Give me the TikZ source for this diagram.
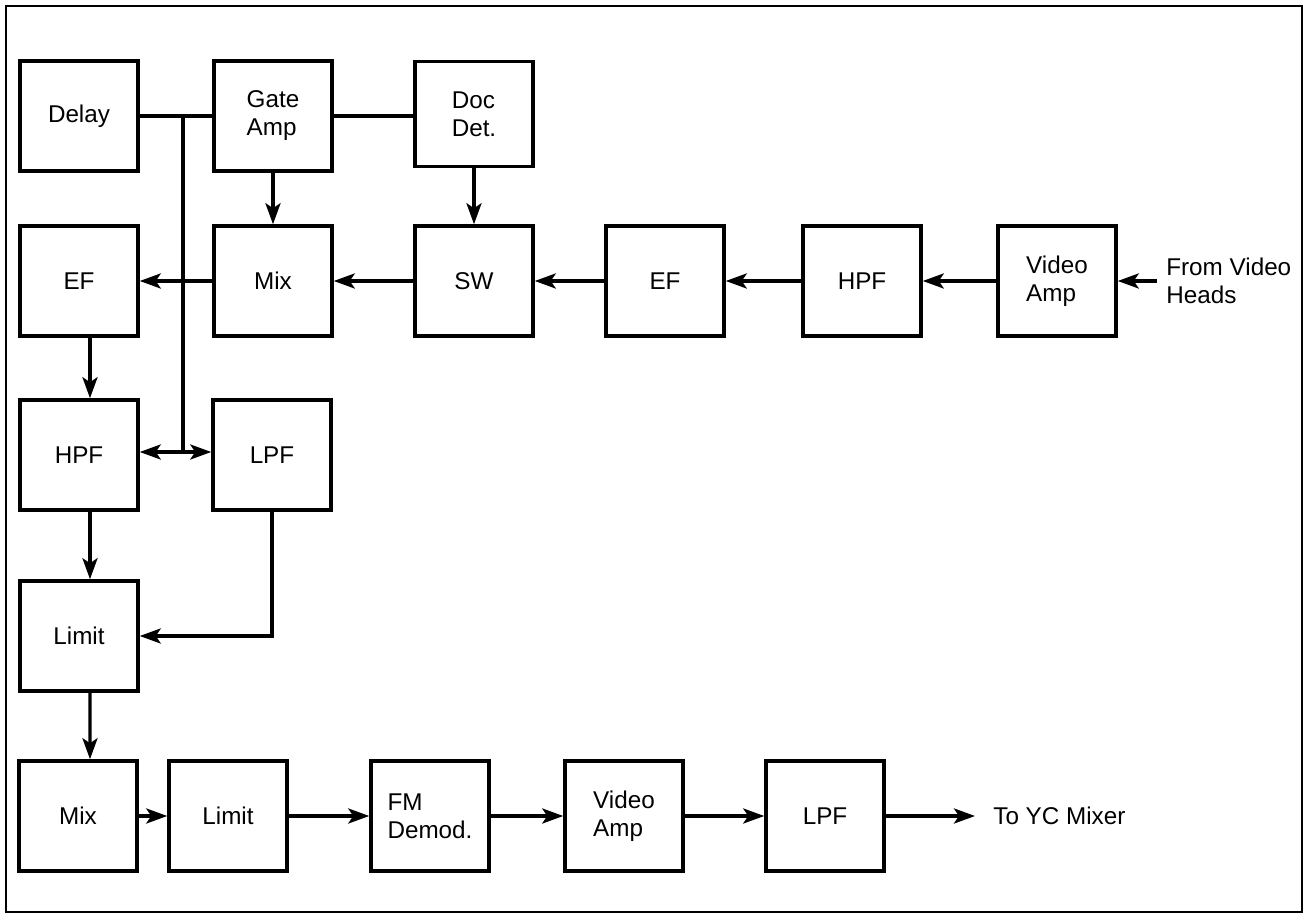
\documentclass[tikz,border=0pt]{standalone}
\usepackage{fontspec}
\setmainfont{Liberation Sans}
\usetikzlibrary{arrows.meta}

\begin{document}
\begin{tikzpicture}[x=0.02cm, y=-0.02cm, every node/.style={font=\fontsize{13.8}{16}\selectfont}, blk/.style={draw, line width=2pt, minimum width=2.36cm, minimum height=2.2cm, inner sep=0pt, align=left}, wire/.style={line width=1.9pt}, arr/.style={wire, -{Stealth[length=0.42cm, width=0.3cm, inset=0.1cm]}}]
    \useasboundingbox (0,0) rectangle (1309,918);
    \draw[line width=1.6pt] (6,6) rectangle (1302,912);

    \node[blk] (Delay) at (79,116) {Delay};
    \node[blk] (GateAmp) at (273,116) {Gate\\Amp};
    \node[blk] (DocDet) at (474,114) [minimum height=2.1cm] {Doc\\Det.};

    \node[blk] (EFa) at (79,281) {EF};
    \node[blk] (MixA) at (273,281) {Mix};
    \node[blk] (SW) at (474,281) {SW};
    \node[blk] (EFb) at (665,281) {EF};
    \node[blk] (HPFb) at (862,281) {HPF};
    \node[blk] (VidAmpA) at (1057,281) {Video\\Amp};
    \node[anchor=west, align=left, inner sep=0pt] (Heads) at (1166,281) {From Video\\Heads};
    \coordinate (HeadsIn) at (1157,281);

    \node[blk] (HPFa) at (79,455) {HPF};
    \node[blk] (LPFa) at (272,455) {LPF};
    \node[blk] (LimitA) at (79,636) {Limit};

    \node[blk] (MixB) at (78,816) {Mix};
    \node[blk] (LimitB) at (228,816) {Limit};
    \node[blk] (FMDemod) at (430,816) {FM\\Demod.};
    \node[blk] (VidAmpB) at (624,816) {Video\\Amp};
    \node[blk] (LPFb) at (825,816) {LPF};
    \node[anchor=west, inner sep=0pt] (YC) at (993,816) {To YC Mixer};
    \coordinate (YCOut) at (975,816);

    \coordinate (Tap) at (183,116);
    \coordinate (Split) at (183,452);

    \draw[wire] (Delay) -- (GateAmp);
    \draw[wire] (GateAmp) -- (GateAmp -| DocDet.west);
    \draw[wire] (Tap) -- (Split);
    \draw[arr] (Split) -- (Split -| HPFa.east);
    \draw[arr] (Split) -- (Split -| LPFa.west);
    \draw[arr] (GateAmp) -- (MixA);
    \draw[arr] (DocDet) -- (SW);

    \draw[arr] (HeadsIn) -- (VidAmpA);
    \draw[arr] (VidAmpA) -- (HPFb);
    \draw[arr] (HPFb) -- (EFb);
    \draw[arr] (EFb) -- (SW);
    \draw[arr] (SW) -- (MixA);
    \draw[arr] (MixA) -- (EFa);

    \draw[arr] ([xshift=0.22cm]EFa.south) -- ([xshift=0.22cm]HPFa.north);
    \draw[arr] ([xshift=0.22cm]HPFa.south) -- ([xshift=0.22cm]LimitA.north);
    \draw[arr] (LPFa.south) |- (LimitA);
    \draw[arr] ([xshift=0.22cm]LimitA.south) -- ([xshift=0.24cm]MixB.north);

    \draw[arr] (MixB) -- (LimitB);
    \draw[arr] (LimitB) -- (FMDemod);
    \draw[arr] (FMDemod) -- (VidAmpB);
    \draw[arr] (VidAmpB) -- (LPFb);
    \draw[arr] (LPFb) -- (YCOut);
\end{tikzpicture}
\end{document}
